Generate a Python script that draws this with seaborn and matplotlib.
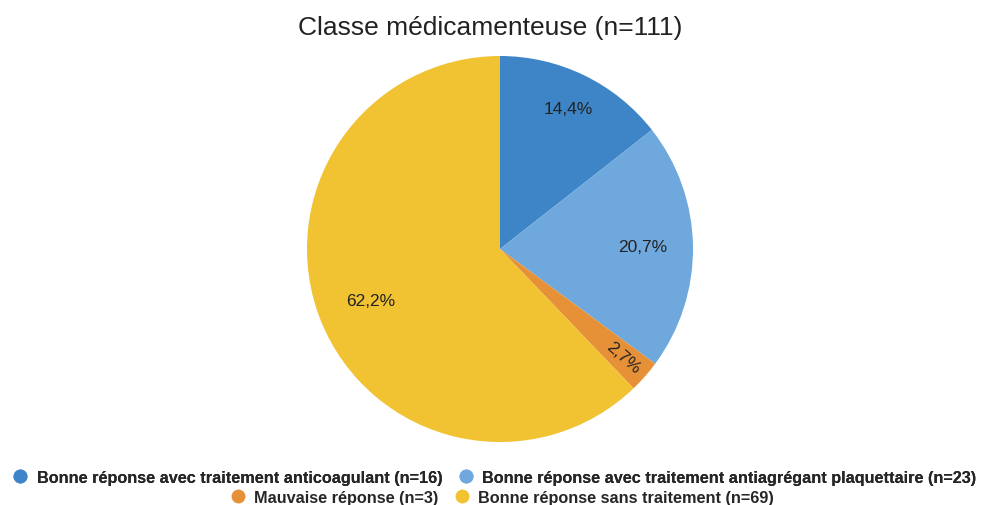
import matplotlib
matplotlib.use("Agg")
import numpy as np
import matplotlib.pyplot as plt
import seaborn as sns
from matplotlib.lines import Line2D

# Data
categories = ['Bonne réponse avec traitement anticoagulant (n=16)',
              'Bonne réponse avec traitement antiagrégant plaquettaire (n=23)',
              'Mauvaise réponse (n=3)',
              'Bonne réponse sans traitement (n=69)']
counts = [16, 23, 3, 69]
colors = ['#3D85C6', '#6FA8DC', '#E69138', '#F1C232']
title = 'Classe médicamenteuse (n=111)'

sns.set_theme(style="white")
plt.rcParams['font.family'] = ['Liberation Sans', 'DejaVu Sans']

fig = plt.figure(figsize=(9.82, 5.06), dpi=100)
ax = fig.add_axes([307 / 982, 63 / 506, 386 / 982, 386 / 506])


def fmt_pct(p):
    return f'{p:.1f}%'.replace('.', ',')


wedges, texts, autotexts = ax.pie(counts, colors=colors, startangle=90,
                                  counterclock=False, autopct=fmt_pct,
                                  pctdistance=0.78, radius=1,
                                  textprops={'fontsize': 12.5, 'color': '#222222'},
                                  wedgeprops={'linewidth': 0})
ax.set_xlim(-1, 1)
ax.set_ylim(-1, 1)
ax.set_aspect('equal')

# label distances like the original (spreadsheet style placement)
dists = [0.81, 0.74, 0.85, 0.72]
for w, t, d in zip(wedges, autotexts, dists):
    ang = np.deg2rad((w.theta1 + w.theta2) / 2)
    t.set_position((d * np.cos(ang), d * np.sin(ang)))
# small slice label rotated along the radius
autotexts[2].set_rotation((wedges[2].theta1 + wedges[2].theta2) / 2)

fig.text(0.499, 0.944, title, ha='center', va='center', fontsize=19, color='#222222')

handles = [Line2D([0], [0], marker='o', linestyle='', markersize=10,
                  markerfacecolor=c, markeredgewidth=0) for c in colors]

leg1 = fig.legend(handles[:2], categories[:2], ncol=2, loc='center',
                  bbox_to_anchor=(0.5025, 0.054), frameon=False,
                  prop={'weight': 'bold', 'size': 11.7}, handletextpad=0.4,
                  columnspacing=0.85, handlelength=1.2, borderaxespad=0)
leg2 = fig.legend(handles[2:], categories[2:], ncol=2, loc='center',
                  bbox_to_anchor=(0.51, 0.015), frameon=False,
                  prop={'weight': 'bold', 'size': 11.7}, handletextpad=0.4,
                  columnspacing=0.85, handlelength=1.2, borderaxespad=0)
fig.add_artist(leg1)

plt.savefig('out.png', dpi=100)
